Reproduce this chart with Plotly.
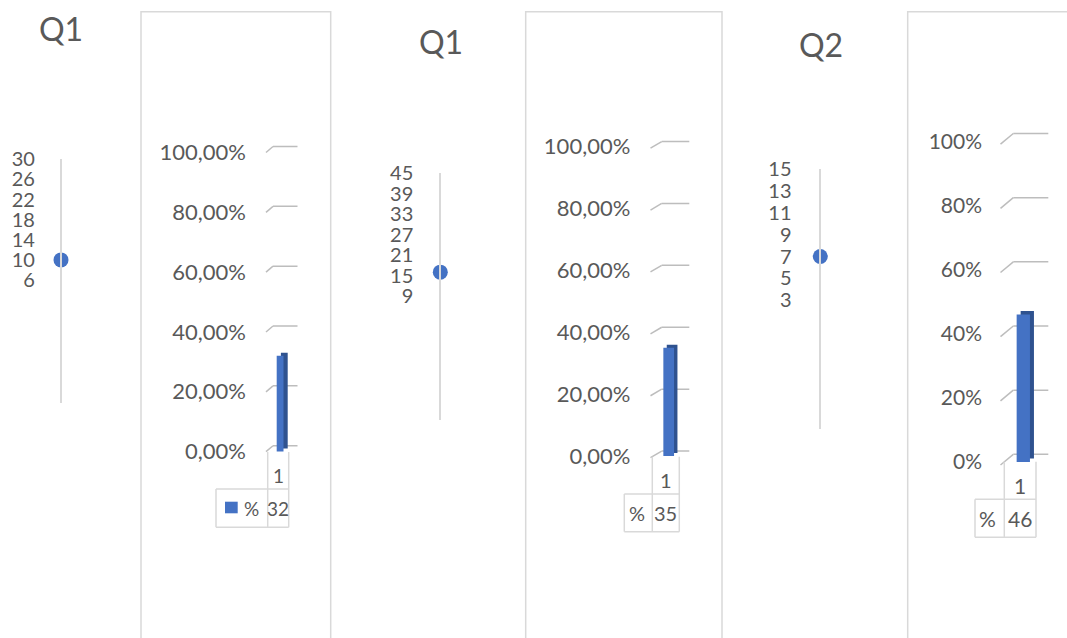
import plotly.graph_objects as go

W, H = 1067, 638

# ---- data -------------------------------------------------------------
titles = ["Q1", "Q1", "Q2"]
counts = [10, 16, 7]                       # dot on each count scale
count_ticks = [
    [6, 10, 14, 18, 22, 26, 30],
    [9, 15, 21, 27, 33, 39, 45],
    [3, 5, 7, 9, 11, 13, 15],
]
shares = [32, 35, 46]                      # column value, in percent
share_ticks = [0, 20, 40, 60, 80, 100]
share_decimals = [2, 2, 0]
category = "1"
series_name = "%"

# ---- styling ----------------------------------------------------------
TXT = "#595959"
LINE = "#D9D9D9"
GRID = "#BDBDBD"
BLUE = "#4472C4"
BLUE_DARK = "#2F528F"
FONT = "Lato"

# pixel geometry of each panel
panels = [
    dict(title=(60.5, 28.5), line_x=61, cnt_ref=159.3, cnt_s=5.03, cnt_lo=-18.4, cnt_gap=24.3,
         box=(141, 11.7, 330.7), p0=451.5, s=2.992, f=1.94, g=2.0, lab_right=245, lab_size=22,
         grid_x=(266, 273, 297.5), bar_c=280.1, bar_w=6.8, bar_dx=4.2, bar_dy=3.0,
         cols=(216, 267.7, 288.7), rows=(452, 489, 527.3), cat_y=475, leg_x=251.7,
         legend_box=(225, 501.7, 237.7, 513.3), tfont=19),
    dict(title=(440.5, 41.8), line_x=440.3, cnt_ref=173.3, cnt_s=3.408, cnt_lo=-27.4, cnt_gap=25.3,
         box=(525.7, 11.7, 722), p0=456, s=3.095, f=1.6, g=2.13, lab_right=629.3, lab_size=22,
         grid_x=(650.5, 661.7, 689.3), bar_c=668.7, bar_w=10.7, bar_dx=3.4, bar_dy=3.0,
         cols=(624.3, 652.3, 679.3), rows=(456.7, 494, 531.7), cat_y=480, leg_x=636.7,
         legend_box=None, tfont=20),
    dict(title=(820.8, 44.2), line_x=820.3, cnt_ref=169.3, cnt_s=10.9, cnt_lo=-8.85, cnt_gap=27,
         box=(907.7, 11.7, 1075), p0=462, s=3.208, f=2.4, g=3.33, lab_right=981, lab_size=21,
         grid_x=(1000.5, 1013.3, 1048.3), bar_c=1023.3, bar_w=13.3, bar_dx=4.0, bar_dy=3.5,
         cols=(975, 1004.3, 1036), rows=(461.7, 499.3, 537.3), cat_y=485, leg_x=987.3,
         legend_box=None, tfont=21),
]


def px(x):
    return x / W


def py(y):
    return 1 - y / H


def pct_label(v, decimals):
    return f"{v:.{decimals}f}".replace(".", ",") + "%"


fig = go.Figure()
layout = dict(
    width=W, height=H, autosize=False,
    margin=dict(l=0, r=0, t=0, b=0, pad=0, autoexpand=False),
    paper_bgcolor="white", plot_bgcolor="rgba(0,0,0,0)",
    showlegend=False, barmode="overlay",
    font=dict(family=FONT, color=TXT),
)
shapes, annotations = [], []

for i, pan in enumerate(panels):
    ia, ib = 2 * i + 1, 2 * i + 2
    xa, ya = f"x{ia}", f"y{ia}"
    xb, yb = f"x{ib}", f"y{ib}"
    ka = "" if ia == 1 else str(ia)

    # ---- count scale with a single dot --------------------------------
    ticks = count_ticks[i]
    top = max(ticks)
    hi = top + 0.05
    lo = pan["cnt_lo"]
    ref, cs = pan["cnt_ref"], pan["cnt_s"]

    def pv(v):
        return ref + (top - v) * cs

    layout[f"xaxis{ka}"] = dict(
        domain=[px(pan["line_x"] - 10), px(pan["line_x"] + 10)], range=[-1, 1],
        visible=False, anchor=ya, fixedrange=True, automargin=False)
    layout[f"yaxis{ka}"] = dict(
        domain=[py(pv(lo)), py(pv(hi))], range=[lo, hi], anchor="free",
        position=px(pan["line_x"]), showline=True, linecolor=LINE, linewidth=1.5,
        showgrid=False, zeroline=False, tickmode="array", tickvals=ticks,
        ticks="outside", ticklen=pan["cnt_gap"] - 3, tickcolor="rgba(0,0,0,0)",
        tickfont=dict(size=20, color=TXT, family=FONT), automargin=False)
    fig.add_trace(go.Scatter(
        x=[0], y=[counts[i]], mode="markers", xaxis=xa, yaxis=ya,
        marker=dict(size=15, color=BLUE), cliponaxis=False, hoverinfo="y"))

    # ---- percentage column ---------------------------------------------
    bl, bt, br = pan["box"]
    p0, s = pan["p0"], pan["s"]
    plo, phi = -8, 112
    layout[f"xaxis{ib}"] = dict(
        domain=[px(bl), min(1.0, px(br))],
        range=[bl - pan["bar_c"], min(W, br) - pan["bar_c"]],
        visible=False, anchor=yb, fixedrange=True, automargin=False)
    layout[f"yaxis{ib}"] = dict(
        domain=[py(p0 - plo * s), py(p0 - phi * s)], range=[plo, phi],
        anchor="free", position=px(pan["lab_right"] + 1),
        showline=False, showgrid=False, zeroline=False,
        tickmode="array", tickvals=share_ticks,
        ticktext=[pct_label(v, share_decimals[i]) for v in share_ticks],
        ticks="", tickfont=dict(size=pan["lab_size"], color=TXT, family=FONT),
        automargin=False)

    # wall gridlines: short slanted foot plus a flat run behind the column
    gx0, gx1, gx2 = pan["grid_x"]
    for v in share_ticks:
        yv = v + pan["f"]
        shapes.append(dict(type="line", xref="paper", yref=yb, layer="below",
                           x0=px(gx0), x1=px(gx1), y0=yv - pan["g"], y1=yv,
                           line=dict(color=GRID, width=1.5)))
        shapes.append(dict(type="line", xref="paper", yref=yb, layer="below",
                           x0=px(gx1), x1=px(gx2), y0=yv, y1=yv,
                           line=dict(color=GRID, width=1.5)))

    depth = pan["bar_dy"] / s
    fig.add_trace(go.Bar(
        x=[pan["bar_dx"]], y=[shares[i]], base=[depth], width=[pan["bar_w"]],
        marker=dict(color=BLUE_DARK, line=dict(width=0)), xaxis=xb, yaxis=yb,
        hoverinfo="skip"))
    fig.add_trace(go.Bar(
        x=[0], y=[shares[i]], base=[0], width=[pan["bar_w"]], name=series_name,
        marker=dict(color=BLUE, line=dict(width=0)), xaxis=xb, yaxis=yb,
        hoverinfo="y"))

    # ---- frame around the column chart ---------------------------------
    shapes.append(dict(type="rect", xref="paper", yref="paper",
                       x0=px(bl), x1=px(br), y0=py(bt), y1=py(H + 10),
                       line=dict(color=LINE, width=1.5)))

    # ---- data table under the column ------------------------------------
    c0, c1, c2 = pan["cols"]
    r0, r1, r2 = pan["rows"]
    for (x0, y0, x1, y1) in [(c1, r0, c1, r2), (c2, r0, c2, r2), (c0, r1, c0, r2),
                             (c0, r1, c2, r1), (c0, r2, c2, r2)]:
        shapes.append(dict(type="line", xref="paper", yref="paper",
                           x0=px(x0), x1=px(x1), y0=py(y0), y1=py(y1),
                           line=dict(color=LINE, width=1.5)))
    cx = (c1 + c2) / 2
    vy = (r1 + r2) / 2
    tf = dict(size=pan["tfont"], color=TXT, family=FONT)
    center = dict(xref="paper", yref="paper", showarrow=False,
                  xanchor="center", yanchor="middle")
    annotations.append(dict(text=category, x=px(cx), y=py(pan["cat_y"]), font=tf, **center))
    annotations.append(dict(text=f"{shares[i]}", x=px(cx), y=py(vy), font=tf, **center))
    annotations.append(dict(text=series_name, x=px(pan["leg_x"]), y=py(vy), font=tf, **center))
    if pan["legend_box"]:
        lx0, ly0, lx1, ly1 = pan["legend_box"]
        shapes.append(dict(type="rect", xref="paper", yref="paper",
                           x0=px(lx0), x1=px(lx1), y0=py(ly1), y1=py(ly0),
                           fillcolor=BLUE, line=dict(width=0)))

    # ---- panel title -----------------------------------------------------
    tx, ty = pan["title"]
    annotations.append(dict(text=titles[i], x=px(tx), y=py(ty),
                            font=dict(size=32, color=TXT, family=FONT), **center))

layout["shapes"] = shapes
layout["annotations"] = annotations
fig.update_layout(**layout)
fig.write_html("out.html")
